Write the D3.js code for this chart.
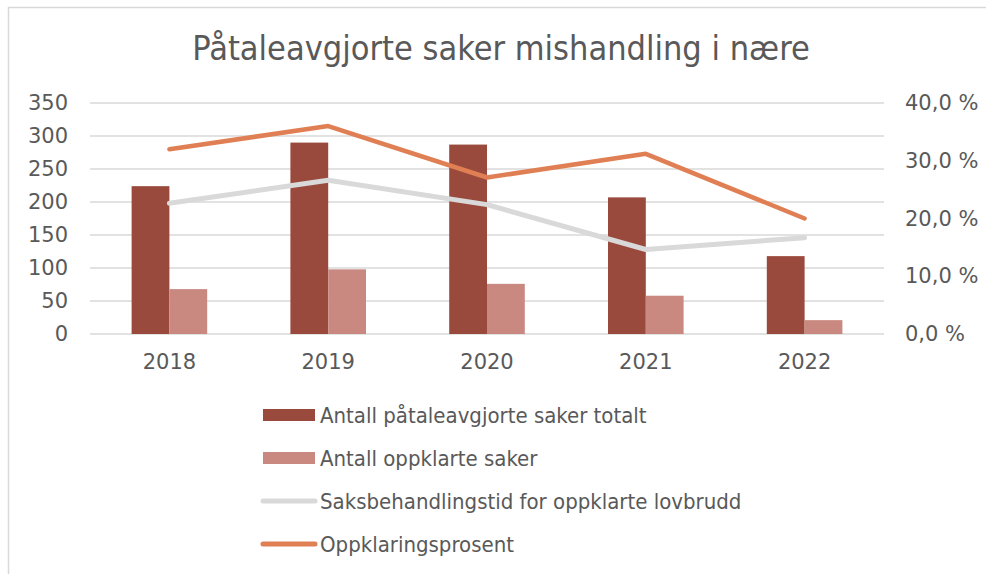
<!DOCTYPE html>
<html>
<head>
<meta charset="utf-8">
<script src="https://cdn.jsdelivr.net/npm/d3@7"></script>
<style>
	body { margin: 0; background: #fff; }
	svg { display: block; font-family: 'DejaVu Sans Condensed', 'DejaVu Sans', sans-serif; }
	.tick text { font-family: 'DejaVu Sans', sans-serif; }
</style>
</head>
<body>
<div id="chart"></div>
<script>
	'use strict';

	// data
	var years = ['2018', '2019', '2020', '2021', '2022'];
	var totalCases = [224, 290, 287, 207, 118];
	var solvedCases = [68, 98, 76, 58, 21];
	var processingDays = [198, 233, 196, 128, 146];
	var solvedPercent = [32.0, 36.0, 27.1, 31.2, 20.0];
	var leftTicks = [0, 50, 100, 150, 200, 250, 300, 350];
	var rightTicks = [0, 10, 20, 30, 40];
	var seriesNames = [
		'Antall påtaleavgjorte saker totalt',
		'Antall oppklarte saker',
		'Saksbehandlingstid for oppklarte lovbrudd',
		'Oppklaringsprosent'
	];

	var width = 986, height = 574;
	var colors = {
		total: '#994A3D',
		solved: '#C98981',
		days: '#D9D9D9',
		percent: '#E07F53',
		text: '#595959',
		grid: '#D9D9D9'
	};
	var plot = { left: 90, right: 884, top: 103, bottom: 334 };

	var svg = d3.select('#chart')
		.append('svg')
		.attr('width', width)
		.attr('height', height);

	// chart frame (cropped on the right and bottom)
	svg.append('path')
		.attr('d', 'M8.5,' + height + 'V7.5H' + width)
		.attr('fill', 'none')
		.attr('stroke', colors.grid)
		.attr('stroke-width', 1.5);

	// title
	svg.append('text')
		.attr('x', 501)
		.attr('y', 60)
		.attr('text-anchor', 'middle')
		.attr('fill', colors.text)
		.style('font-size', '34px')
		.text('Påtaleavgjorte saker mishandling i nære');

	// scales
	var x = d3.scaleBand()
		.domain(years)
		.range([plot.left, plot.right])
		.paddingInner(0.524)
		.paddingOuter(0.262);

	var xInner = d3.scaleBand()
		.domain(['total', 'solved'])
		.range([0, x.bandwidth()]);

	var yLeft = d3.scaleLinear()
		.domain([0, 350])
		.range([plot.bottom, plot.top]);

	var yRight = d3.scaleLinear()
		.domain([0, 40])
		.range([plot.bottom, plot.top]);

	var locale = d3.formatLocale({ decimal: ',', thousands: ' ', grouping: [3], currency: ['', ' kr'] });
	var pctFormat = locale.format('.1f');

	// gridlines
	svg.append('g')
		.selectAll('line')
		.data(leftTicks)
		.enter()
		.append('line')
		.attr('x1', plot.left)
		.attr('x2', plot.right)
		.attr('y1', function(d) { return yLeft(d); })
		.attr('y2', function(d) { return yLeft(d); })
		.attr('stroke', colors.grid)
		.attr('stroke-width', 1.5);

	// left axis
	var leftAxis = svg.append('g')
		.attr('transform', 'translate(' + (plot.left - 22) + ',0)')
		.call(d3.axisLeft(yLeft).tickValues(leftTicks).tickSize(0).tickPadding(0));
	leftAxis.select('.domain').remove();
	leftAxis.selectAll('text')
		.attr('fill', colors.text)
		.style('font-size', '21px')
		.attr('font-family', null);

	// right axis
	var rightAxis = svg.append('g')
		.attr('transform', 'translate(' + (plot.right + 21) + ',0)')
		.call(d3.axisRight(yRight).tickValues(rightTicks).tickSize(0).tickPadding(0)
			.tickFormat(function(d) { return pctFormat(d) + ' %'; }));
	rightAxis.select('.domain').remove();
	rightAxis.selectAll('text')
		.attr('fill', colors.text)
		.style('font-size', '21px')
		.attr('font-family', null);

	// bottom axis
	var bottomAxis = svg.append('g')
		.attr('transform', 'translate(0,' + (plot.bottom + 20) + ')')
		.call(d3.axisBottom(x).tickSize(0).tickPadding(0));
	bottomAxis.select('.domain').remove();
	bottomAxis.selectAll('text')
		.attr('fill', colors.text)
		.attr('dy', '0.72em')
		.style('font-size', '21px')
		.attr('font-family', null);

	// bars
	var barData = years.map(function(year, i) {
		return [
			{ year: year, key: 'total', value: totalCases[i] },
			{ year: year, key: 'solved', value: solvedCases[i] }
		];
	});

	svg.append('g')
		.selectAll('g')
		.data(barData)
		.enter()
		.append('g')
		.attr('transform', function(d) { return 'translate(' + x(d[0].year) + ',0)'; })
		.selectAll('rect')
		.data(function(d) { return d; })
		.enter()
		.append('rect')
		.attr('x', function(d) { return xInner(d.key); })
		.attr('width', xInner.bandwidth())
		.attr('y', function(d) { return yLeft(d.value); })
		.attr('height', function(d) { return yLeft(0) - yLeft(d.value); })
		.attr('fill', function(d) { return colors[d.key]; });

	// lines
	function center(year) { return x(year) + x.bandwidth() / 2; }

	var daysLine = d3.line()
		.x(function(d, i) { return center(years[i]); })
		.y(function(d) { return yLeft(d); });

	var percentLine = d3.line()
		.x(function(d, i) { return center(years[i]); })
		.y(function(d) { return yRight(d); });

	svg.append('path')
		.datum(processingDays)
		.attr('d', daysLine)
		.attr('fill', 'none')
		.attr('stroke', colors.days)
		.attr('stroke-width', 5)
		.attr('stroke-linecap', 'round')
		.attr('stroke-linejoin', 'round');

	svg.append('path')
		.datum(solvedPercent)
		.attr('d', percentLine)
		.attr('fill', 'none')
		.attr('stroke', colors.percent)
		.attr('stroke-width', 4.5)
		.attr('stroke-linecap', 'round')
		.attr('stroke-linejoin', 'round');

	// legend
	var legendItems = [
		{ name: seriesNames[0], color: colors.total, type: 'bar' },
		{ name: seriesNames[1], color: colors.solved, type: 'bar' },
		{ name: seriesNames[2], color: colors.days, type: 'line' },
		{ name: seriesNames[3], color: colors.percent, type: 'line' }
	];

	var legend = svg.append('g')
		.selectAll('g')
		.data(legendItems)
		.enter()
		.append('g')
		.attr('transform', function(d, i) { return 'translate(263,' + (415 + i * 43) + ')'; });

	legend.filter(function(d) { return d.type === 'bar'; })
		.append('rect')
		.attr('x', 0)
		.attr('y', -6)
		.attr('width', 52)
		.attr('height', 12)
		.attr('fill', function(d) { return d.color; });

	legend.filter(function(d) { return d.type === 'line'; })
		.append('line')
		.attr('x1', 0)
		.attr('x2', 52)
		.attr('stroke', function(d) { return d.color; })
		.attr('stroke-width', 5)
		.attr('stroke-linecap', 'round');

	legend.append('text')
		.attr('x', 57)
		.attr('dy', '0.36em')
		.attr('fill', colors.text)
		.style('font-size', '22px')
		.text(function(d) { return d.name; });
</script>
</body>
</html>
